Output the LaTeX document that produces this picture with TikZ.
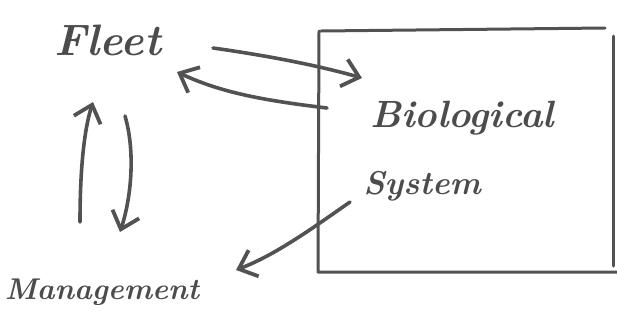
\documentclass[tikz,border=0pt]{standalone}
\usetikzlibrary{arrows.meta}
\begin{document}
\begin{tikzpicture}[x=1pt,y=-1pt,
  ink/.style={draw=black!68, line width=3.6pt, line cap=round, line join=round},
  flow/.style={ink, -{Straight Barb[length=16pt,width=28pt,line width=3.8pt]}},
  hand/.style={text=black!70, font=\bfseries\itshape, align=center, inner sep=0pt}]
\useasboundingbox (0,0) rectangle (617,330);
% system boundary
\draw[ink, line width=3pt] (319,31) -- (318,272) -- (617,272);
\draw[ink, line width=3pt] (321,31) -- (605,28);
\draw[ink, line width=3pt] (613,36) -- (613,266);
% labels
\node[hand, font=\fontsize{44}{48}\selectfont\bfseries\itshape] (fleet) at (108,40) {Fleet};
\node[hand, font=\fontsize{38}{42}\selectfont\bfseries\itshape] (bio) at (462,118) {Biological};
\node[hand, font=\fontsize{33}{37}\selectfont\bfseries\itshape] (sys) at (422,186) {System};
\node[hand, font=\fontsize{30}{34}\selectfont\bfseries\itshape] (mgmt) at (102,292) {Management};
% end points of the connectors
\coordinate (f1) at (213,48);
\coordinate (f2) at (177,72);
\coordinate (b1) at (362,78);
\coordinate (b2) at (327,108);
\coordinate (b3) at (350,202);
\coordinate (m3) at (236,270);
\coordinate (fu) at (93,102);
\coordinate (fd) at (125,116);
\coordinate (mu) at (80,222);
\coordinate (md) at (120,232);
% flows
\draw[flow] (f1) .. controls (270,56) and (320,66) .. (b1);
\draw[flow] (b2) .. controls (260,100) and (220,92) .. (f2);
\draw[flow] (mu) .. controls (80,170) and (84,130) .. (fu);
\draw[flow] (fd) .. controls (135,150) and (132,195) .. (md);
\draw[flow] (b3) .. controls (310,230) and (275,255) .. (m3);
\end{tikzpicture}
\end{document}
